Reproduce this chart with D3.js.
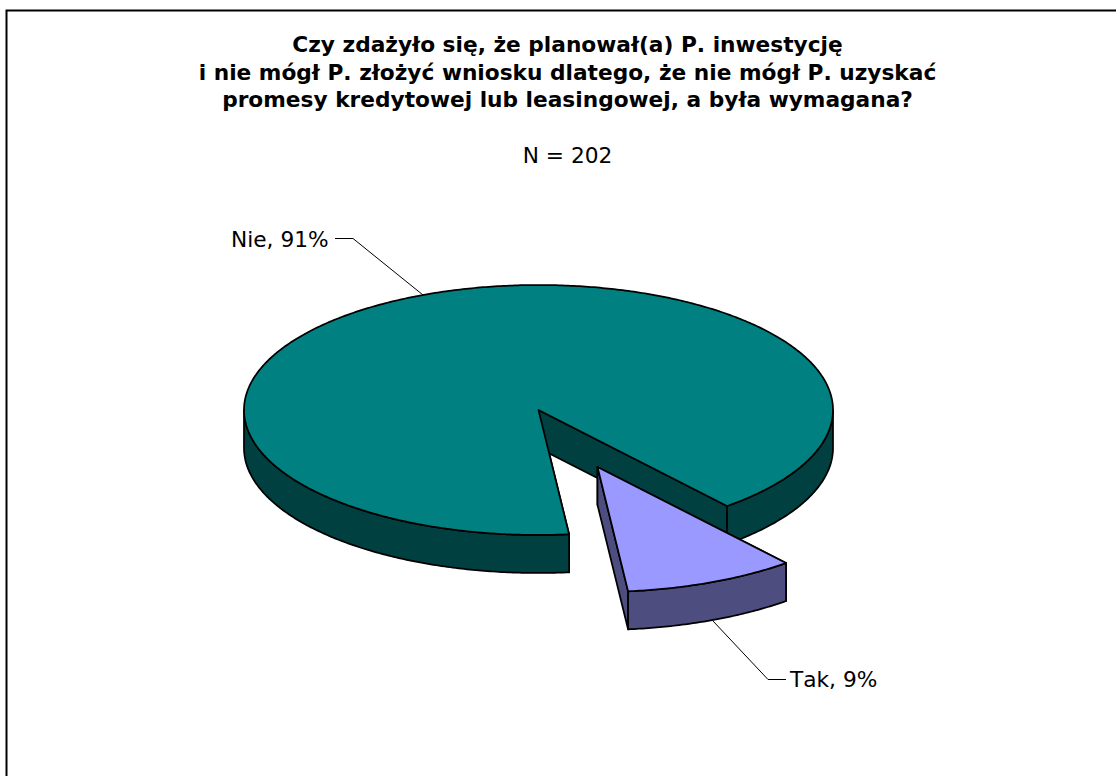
<!DOCTYPE html>
<html><head><meta charset="utf-8">
<script src="https://cdn.jsdelivr.net/npm/d3@7"></script>
<style>html,body{margin:0;padding:0;background:#fff}svg{display:block}text{font-family:"DejaVu Sans",Verdana,sans-serif;fill:#000;font-kerning:none}</style>
</head><body><svg id="c" width="1116" height="776"></svg>
<script>
const categories = ["Tak", "Nie"];
const shares = [0.094, 0.906];
const topColors = ["#9999FF", "#008080"];
const sideColors = ["#4D4D80", "#004040"];
const titleLines = [
  "Czy zdażyło się, że planował(a) P. inwestycję",
  "i nie mógł P. złożyć wniosku dlatego, że nie mógł P. uzyskać",
  "promesy kredytowej lub leasingowej, a była wymagana?"
];
const titleBaselines = [52, 79.5, 107];
const subtitle = "N = 202";

const svg = d3.select("#c");
svg.append("path").attr("d","M1116,10.5H6.5V776").attr("fill","none").attr("stroke","#000").attr("stroke-width",2);

const cx = 538.5, cy = 410, rx = 294.5, ry = 125, depth = 38;
const explode = [[59,57],[0,0]];
const sx = d3.scaleLinear().domain([-1,1]).range([cx-rx,cx+rx]);
const sy = d3.scaleLinear().domain([-1,1]).range([cy-ry,cy+ry]);
const pie = d3.pie().sort(null).startAngle(140.2*Math.PI/180).endAngle((140.2+360)*Math.PI/180);
const slices = pie(shares);
const line = d3.line();

function pt(a, off, dz){ // a: d3 angle, clockwise from 12 o'clock
  return [sx(Math.sin(a))+off[0], sy(-Math.cos(a))+off[1]+dz];
}
function arcPts(a0,a1,off,dz){
  const n = Math.max(2,Math.ceil(Math.abs(a1-a0)/0.01));
  return d3.range(n+1).map(i=>pt(a0+(a1-a0)*i/n,off,dz));
}
// visible outer wall: the lower half of the ellipse, d3 angles in [90deg,270deg] mod 360
function wallSpans(a0,a1){
  const out=[];
  for(const k of [0,1,2]){
    const lo=Math.PI/2+2*Math.PI*(k-1), hi=lo+Math.PI;
    const s=Math.max(a0,lo), e=Math.min(a1,hi);
    if(e>s) out.push([s,e]);
  }
  return out;
}
const stroke = {stroke:"#000","stroke-width":1.75,"stroke-linejoin":"round"};
[1,0].forEach(i=>{
  const d = slices[i], off = explode[i], g = svg.append("g");
  const add = (pts,fill)=>{const p=g.append("path").attr("d",line(pts)+"Z").attr("fill",fill);
    for(const k in stroke) p.attr(k,stroke[k]);};
  const apex=[cx+off[0],cy+off[1]];
  const apexB=[apex[0],apex[1]+depth];
  // inner radial walls
  [d.startAngle,d.endAngle].forEach(a=>{
    const p=pt(a,off,0), pb=pt(a,off,depth);
    add([apex,p,pb,apexB],sideColors[i]);
  });
  // outer walls
  wallSpans(d.startAngle,d.endAngle).forEach(([s,e])=>{
    add(arcPts(s,e,off,0).concat(arcPts(e,s,off,depth)),sideColors[i]);
  });
  // top face
  add([apex].concat(arcPts(d.startAngle,d.endAngle,off,0)),topColors[i]);
});

// leader lines and labels
const pct = d3.format(".0%");
const leaderNie = [[335,238.5],[353,238.5],[423,295]];
const leaderTak = [[713,621],[768,679.5],[786,679.5]];
[leaderNie,leaderTak].forEach(l=>svg.append("path").attr("d",line(l)).attr("fill","none").attr("stroke","#000").attr("stroke-width",1));
svg.append("text").attr("x",231).attr("y",246.5).attr("font-size",21.7).text(`${categories[1]}, ${pct(shares[1])}`);
svg.append("text").attr("x",790).attr("y",687).attr("font-size",21.7).text(`${categories[0]}, ${pct(shares[0])}`);

titleLines.forEach((t,i)=>svg.append("text").attr("x",567.5).attr("y",titleBaselines[i])
  .attr("text-anchor","middle").attr("font-size",21.7).attr("font-weight","bold").text(t));
svg.append("text").attr("x",567.5).attr("y",163).attr("text-anchor","middle").attr("font-size",21.7).text(subtitle);
</script></body></html>
